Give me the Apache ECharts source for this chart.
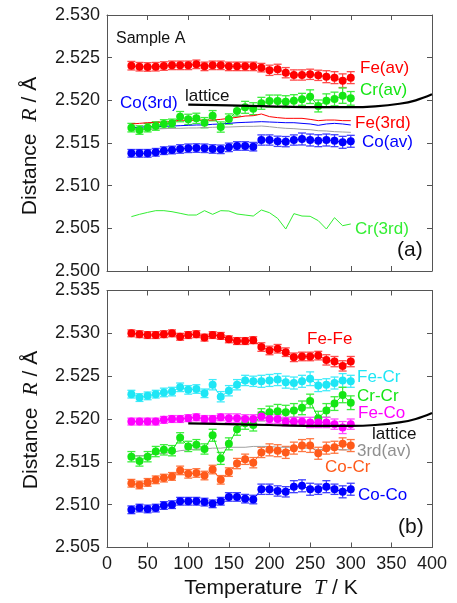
<!DOCTYPE html>
<html><head><meta charset="utf-8">
<script src="https://cdn.jsdelivr.net/npm/echarts@6/dist/echarts.min.js"></script>
<style>html,body{margin:0;padding:0;background:#fff}#c{width:457px;height:603px}</style>
</head><body><div id="c"></div>
<script>
// Temperature (K)
const T = [30,40,50,60,70,80,90,100,110,120,130,140,150,160,170,180,190,200,210,220,230,240,250,260,270,280,290,300];

// Panel (a)
const feAv = [2.52406,2.52394,2.52391,2.52394,2.52402,2.52410,2.52410,2.52410,2.52422,2.52398,2.52410,2.52410,2.52398,2.52398,2.52398,2.52398,2.52383,2.52352,2.52363,2.52324,2.52297,2.52297,2.52305,2.52293,2.52277,2.52266,2.52230,2.52266];
const feAvErr = [0.0005,0.0005,0.0005,0.0005,0.0005,0.0005,0.0005,0.0005,0.0005,0.0005,0.0005,0.0005,0.0005,0.0005,0.0005,0.0005,0.0005,0.0006,0.0006,0.0006,0.0006,0.0006,0.0006,0.0006,0.0007,0.0007,0.0008,0.0007];
const crAv = [2.51680,2.51652,2.51680,2.51699,2.51723,2.51730,2.51809,2.51777,2.51789,2.51738,2.51820,2.51687,2.51781,2.51875,2.51918,2.51902,2.51965,2.51992,2.51992,2.51984,2.51996,2.52012,2.52043,2.51934,2.51996,2.52016,2.52055,2.52023];
const crAvErr = [0.0005,0.0005,0.0005,0.0005,0.0005,0.0005,0.0006,0.0006,0.0006,0.0006,0.0006,0.0006,0.0006,0.0006,0.0007,0.0007,0.0007,0.0007,0.0007,0.0007,0.0007,0.0007,0.0008,0.0007,0.0008,0.0008,0.0009,0.0008];
const coAv = [2.51379,2.51379,2.51379,2.51391,2.51410,2.51418,2.51430,2.51438,2.51441,2.51438,2.51430,2.51426,2.51449,2.51465,2.51465,2.51457,2.51535,2.51535,2.51520,2.51516,2.51535,2.51547,2.51535,2.51527,2.51535,2.51527,2.51508,2.51520];
const coAvErr = [0.00045,0.00045,0.00045,0.00045,0.00045,0.00045,0.0005,0.0005,0.0005,0.0005,0.0005,0.0005,0.0005,0.0005,0.0005,0.0005,0.0006,0.0006,0.0006,0.0006,0.0006,0.0007,0.0007,0.0007,0.0007,0.0007,0.0007,0.0007];
const fe3rd = [2.51723,2.51730,2.51738,2.51742,2.51746,2.51750,2.51769,2.51762,2.51769,2.51769,2.51769,2.51777,2.51789,2.51801,2.51816,2.51820,2.51840,2.51809,2.51797,2.51789,2.51789,2.51789,2.51777,2.51762,2.51769,2.51769,2.51762,2.51762];
const co3rd = [2.51680,2.51684,2.51691,2.51691,2.51695,2.51699,2.51703,2.51707,2.51711,2.51711,2.51719,2.51723,2.51730,2.51738,2.51742,2.51746,2.51750,2.51746,2.51742,2.51738,2.51738,2.51730,2.51723,2.51707,2.51723,2.51730,2.51723,2.51711];
const avg3rdA = [2.51652,2.51656,2.51660,2.51664,2.51668,2.51672,2.51672,2.51676,2.51676,2.51680,2.51684,2.51687,2.51687,2.51691,2.51695,2.51695,2.51699,2.51691,2.51680,2.51672,2.51668,2.51660,2.51656,2.51644,2.51641,2.51633,2.51629,2.51625];
const cr3rd = [2.50637,2.50664,2.50687,2.50707,2.50707,2.50695,2.50676,2.50656,2.50656,2.50707,2.50664,2.50707,2.50703,2.50668,2.50656,2.50644,2.50715,2.50683,2.50617,2.50492,2.50672,2.50644,2.50641,2.50590,2.50492,2.50625,2.50531,2.50551];

// Panel (b)
const feFe = [2.5300,2.5299,2.5298,2.5298,2.5299,2.5300,2.5296,2.5298,2.5299,2.5295,2.5298,2.5297,2.5293,2.5291,2.5291,2.5292,2.5284,2.5280,2.5282,2.5278,2.5272,2.5273,2.5273,2.5274,2.5269,2.5267,2.5262,2.5267];
const feFeErr = [0.0004,0.0004,0.0004,0.0004,0.0004,0.0004,0.0004,0.0004,0.0004,0.0004,0.0004,0.0004,0.0004,0.0004,0.0004,0.0004,0.0005,0.0005,0.0005,0.0005,0.0005,0.0005,0.0005,0.0005,0.0006,0.0006,0.0006,0.0006];
const feCr = [2.5229,2.5225,2.5227,2.5229,2.5231,2.5232,2.5237,2.5234,2.5235,2.5230,2.5240,2.5226,2.5233,2.5240,2.5245,2.5244,2.5244,2.5245,2.5246,2.5243,2.5242,2.5244,2.5247,2.5239,2.5240,2.5242,2.5245,2.5244];
const feCrErr = [0.00045,0.00045,0.00045,0.00045,0.0005,0.0005,0.0005,0.0005,0.0005,0.0005,0.0006,0.0006,0.0006,0.0006,0.0006,0.0006,0.0007,0.0007,0.0007,0.0007,0.0007,0.0007,0.0008,0.0007,0.0007,0.0007,0.0008,0.0007];
const crCr = [2.5156,2.5151,2.5156,2.5162,2.5164,2.5163,2.5178,2.5168,2.5170,2.5165,2.5181,2.5154,2.5171,2.5188,2.5195,2.5193,2.5205,2.5208,2.5209,2.5208,2.5210,2.5213,2.5221,2.5201,2.5210,2.5218,2.5228,2.5219];
const crCrErr = [0.0006,0.0006,0.0006,0.0006,0.0006,0.0006,0.0006,0.0006,0.0006,0.0006,0.0007,0.0007,0.0007,0.0007,0.0007,0.0007,0.0007,0.0007,0.0008,0.0008,0.0008,0.0008,0.0008,0.0008,0.0008,0.0008,0.0009,0.0008];
const feCo = [2.5197,2.5197,2.5197,2.5197,2.5199,2.5200,2.5200,2.5201,2.5202,2.5200,2.5200,2.5202,2.5201,2.5201,2.5200,2.5200,2.5203,2.5200,2.5200,2.5197,2.5197,2.5197,2.5196,2.5196,2.5196,2.5194,2.5190,2.5194];
const feCoErr = [0.0004,0.0004,0.0004,0.0004,0.0004,0.0004,0.0004,0.0004,0.0004,0.0004,0.0004,0.0004,0.0005,0.0005,0.0005,0.0005,0.0005,0.0005,0.0005,0.0005,0.0005,0.0005,0.0006,0.0006,0.0006,0.0006,0.0007,0.0006];
const coCr = [2.5125,2.5123,2.5126,2.5129,2.5131,2.5133,2.5140,2.5136,2.5137,2.5134,2.5141,2.5129,2.5138,2.5148,2.5153,2.5149,2.5161,2.5164,2.5163,2.5161,2.5166,2.5169,2.5169,2.5160,2.5166,2.5167,2.5171,2.5169];
const coCrErr = [0.00045,0.00045,0.00045,0.00045,0.00045,0.00045,0.0005,0.0005,0.0005,0.0005,0.0005,0.0005,0.0005,0.0006,0.0006,0.0006,0.0006,0.0007,0.0007,0.0007,0.0007,0.0007,0.0008,0.0007,0.0007,0.0007,0.0007,0.0007];
const coCo = [2.5094,2.5096,2.5095,2.5096,2.5099,2.5100,2.5104,2.5104,2.5104,2.5103,2.5101,2.5104,2.5109,2.5109,2.5107,2.5106,2.5118,2.5118,2.5116,2.5115,2.5121,2.5122,2.5118,2.5118,2.5121,2.5118,2.5115,2.5118];
const coCoErr = [0.00045,0.00045,0.00045,0.00045,0.00045,0.00045,0.00045,0.00045,0.00045,0.00045,0.00045,0.00045,0.0005,0.0005,0.0005,0.0005,0.0006,0.0006,0.0006,0.0006,0.0007,0.0007,0.0007,0.0006,0.0007,0.0006,0.0007,0.0007];
const avg3rdB = [2.5157,2.5157,2.5158,2.5159,2.5160,2.5161,2.5163,2.5164,2.5165,2.5165,2.5166,2.5166,2.5167,2.5167,2.5167,2.5168,2.5168,2.5168,2.5167,2.5167,2.5167,2.5166,2.5166,2.5164,2.5165,2.5165,2.5164,2.5164];

// Lattice (both panels)
const latticeT = [100,150,200,250,300,330,360,380,400];
const latticeR = [2.5195,2.5194,2.5193,2.5192,2.5192,2.5193,2.5196,2.5200,2.5207];

// Axis ranges / ticks
const xTicks = {min:0, max:400, interval:50};
const yA = {min:2.500, max:2.530, interval:0.005};
const yB = {min:2.505, max:2.535, interval:0.005};

const FONT = '"Liberation Sans", Arial, sans-serif';
const AX = '#555';

function pairs(xs, ys){ return xs.map((x,i)=>[x, ys[i]]); }

function xAxisDef(gi, pos, showLabel){
  return {type:'value', gridIndex:gi, position:pos, min:xTicks.min, max:xTicks.max, interval:xTicks.interval,
    axisLine:{show:true, onZero:false, lineStyle:{color:AX, width:1}},
    axisTick:{show:true, inside:true, length:5, lineStyle:{color:AX}},
    axisLabel:{show:showLabel, color:'#1a1a1a', fontSize:18, fontFamily:FONT, margin:8},
    splitLine:{show:false}};
}
function yAxisDef(gi, pos, r, showLabel){
  return {type:'value', gridIndex:gi, position:pos, min:r.min, max:r.max, interval:r.interval,
    axisLine:{show:true, onZero:false, lineStyle:{color:AX, width:1}},
    axisTick:{show:true, inside:true, length:5, lineStyle:{color:AX}},
    axisLabel:{show:showLabel, color:'#1a1a1a', fontSize:18, fontFamily:FONT, margin:7, formatter:v=>v.toFixed(3)},
    splitLine:{show:false}};
}

function lineSeries(ax, ys, color, withSym){
  return {type:'line', xAxisIndex:ax, yAxisIndex:ax, data:pairs(T, ys),
    symbol: withSym ? 'circle' : 'none', symbolSize:8, showSymbol:withSym,
    itemStyle:{color:color}, lineStyle:{color:color, width:1}, z:withSym?4:3, animation:false, silent:true};
}
function errSeries(ax, ys, errs, color){
  return {type:'custom', xAxisIndex:ax, yAxisIndex:ax,
    data: T.map((t,i)=>[t, ys[i]-errs[i], ys[i]+errs[i]]),
    renderItem:(params, api)=>{
      const lo = api.coord([api.value(0), api.value(1)]);
      const hi = api.coord([api.value(0), api.value(2)]);
      const w = 4, st = {stroke:color, lineWidth:1.3};
      return {type:'group', children:[
        {type:'line', shape:{x1:lo[0], y1:lo[1], x2:hi[0], y2:hi[1]}, style:st},
        {type:'line', shape:{x1:lo[0]-w, y1:lo[1], x2:lo[0]+w, y2:lo[1]}, style:st},
        {type:'line', shape:{x1:hi[0]-w, y1:hi[1], x2:hi[0]+w, y2:hi[1]}, style:st}
      ]};
    }, z:3, animation:false, silent:true};
}
function latticeSeries(ax){
  return {type:'line', xAxisIndex:ax, yAxisIndex:ax, data:pairs(latticeT, latticeR), smooth:0.4,
    symbol:'none', lineStyle:{color:'#000', width:2.2}, z:5, animation:false, silent:true};
}

const RED='#ff0000', REDE='#ff4a4a', GRN='#14e614', GRNE='#3cee3c', BLU='#0000ff', BLUE='#4040ff',
      CYA='#1ee6f5', CYAE='#40ecfa', MAG='#ff00ff', MAGE='#ff48ff', ORA='#ff5a1a', ORAE='#ff7640', GRY='#a0a0a0';

const series = [
  // panel a
  lineSeries(0, cr3rd, '#33ee33', false),
  lineSeries(0, avg3rdA, GRY, false),
  lineSeries(0, co3rd, BLU, false),
  lineSeries(0, fe3rd, RED, false),
  errSeries(0, feAv, feAvErr, REDE), lineSeries(0, feAv, RED, true),
  errSeries(0, crAv, crAvErr, GRNE), lineSeries(0, crAv, GRN, true),
  errSeries(0, coAv, coAvErr, BLUE), lineSeries(0, coAv, BLU, true),
  latticeSeries(0),
  // panel b
  lineSeries(2, avg3rdB, GRY, false),
  errSeries(2, feFe, feFeErr, REDE), lineSeries(2, feFe, RED, true),
  errSeries(2, feCr, feCrErr, CYAE), lineSeries(2, feCr, CYA, true),
  errSeries(2, crCr, crCrErr, GRNE), lineSeries(2, crCr, GRN, true),
  errSeries(2, feCo, feCoErr, MAGE), lineSeries(2, feCo, MAG, true),
  errSeries(2, coCr, coCrErr, ORAE), lineSeries(2, coCr, ORA, true),
  errSeries(2, coCo, coCoErr, BLUE), lineSeries(2, coCo, BLU, true),
  latticeSeries(2)
];

function txt(x, y, s, color, size){
  return {type:'text', x:x, y:y, silent:true, z:10,
    style:{text:s, fill:color, font:(size||17)+'px '+FONT, textAlign:'left', textVerticalAlign:'middle'}};
}

const graphic = [
  txt(116, 39, 'Sample A', '#111', 16),
  txt(360, 68, 'Fe(av)', RED),
  txt(360, 90, 'Cr(av)', GRN),
  txt(185, 96, 'lattice', '#111', 17),
  txt(120, 103, 'Co(3rd)', BLU, 17),
  txt(355, 123, 'Fe(3rd)', RED),
  txt(362, 142, 'Co(av)', BLU),
  txt(355, 229, 'Cr(3rd)', '#33ee33'),
  txt(397, 250, '(a)', '#111', 21),
  txt(307, 339, 'Fe-Fe', RED),
  txt(357, 377, 'Fe-Cr', CYA),
  txt(357, 396, 'Cr-Cr', GRN),
  txt(358, 413, 'Fe-Co', MAG),
  txt(372, 434, 'lattice', '#111'),
  txt(357, 451, '3rd(av)', '#909090'),
  txt(325, 467, 'Co-Cr', ORA),
  txt(358, 495, 'Co-Co', BLU),
  txt(398, 527, '(b)', '#111', 21),
  {type:'text', x:30, y:146, rotation:Math.PI/2, silent:true,
    style:{text:'{a|Distance  }{i|R}{a| / Å}', textAlign:'center', textVerticalAlign:'middle',
      rich:{a:{fontSize:21, fontFamily:FONT, fill:'#111', color:'#111'}, i:{fontSize:22, fontFamily:'"Liberation Serif", serif', fontStyle:'italic', fill:'#111', color:'#111'}}}},
  {type:'text', x:31, y:420, rotation:Math.PI/2, silent:true,
    style:{text:'{a|Distance  }{i|R}{a| / Å}', textAlign:'center', textVerticalAlign:'middle',
      rich:{a:{fontSize:21, fontFamily:FONT, fill:'#111', color:'#111'}, i:{fontSize:22, fontFamily:'"Liberation Serif", serif', fontStyle:'italic', fill:'#111', color:'#111'}}}},
  {type:'text', x:271, y:588, silent:true,
    style:{text:'{a|Temperature  }{i|T}{a| / K}', textAlign:'center', textVerticalAlign:'middle',
      rich:{a:{fontSize:21, fontFamily:FONT, fill:'#111', color:'#111'}, i:{fontSize:22, fontFamily:'"Liberation Serif", serif', fontStyle:'italic', fill:'#111', color:'#111'}}}}
];

const chart = echarts.init(document.getElementById('c'), null, {renderer:'canvas'});
chart.setOption({
  animation:false,
  backgroundColor:'#fff',
  grid:[{left:107, top:15, width:325, height:256}, {left:107, top:290.5, width:325, height:257}],
  xAxis:[xAxisDef(0,'bottom',false), xAxisDef(0,'top',false), xAxisDef(1,'bottom',true), xAxisDef(1,'top',false)],
  yAxis:[yAxisDef(0,'left',yA,true), yAxisDef(0,'right',yA,false), yAxisDef(1,'left',yB,true), yAxisDef(1,'right',yB,false)],
  series: series,
  graphic: graphic
});
</script></body></html>
